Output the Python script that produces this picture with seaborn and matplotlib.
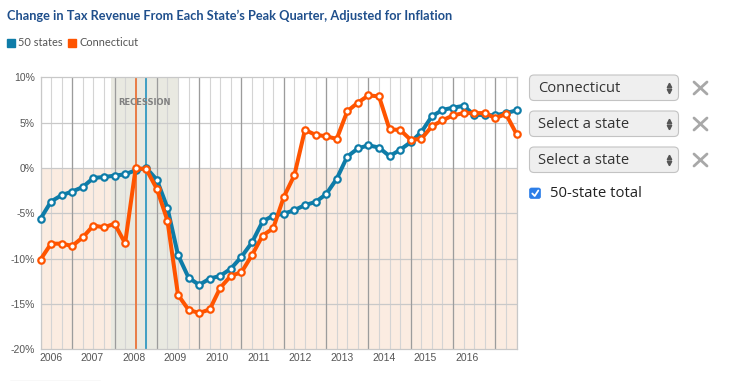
import numpy as np
import pandas as pd
import seaborn as sns
import matplotlib.pyplot as plt
from matplotlib.patches import FancyBboxPatch, Rectangle
from matplotlib.lines import Line2D

# quarterly values, 2006 Q2 .. 2017 Q3, % change from each series' peak quarter
first_quarter = 2006.25
us_total = [-5.6, -3.7, -3.0, -2.6, -2.1, -1.1, -1.0, -0.85, -0.7, -0.25,
            0.0, -1.3, -4.4, -9.6, -12.1, -12.9, -12.2, -11.9, -11.1, -9.8,
            -8.2, -5.9, -5.25, -5.05, -4.65, -4.1, -3.75, -2.9, -1.2, 1.25,
            2.15, 2.5, 2.25, 1.3, 2.0, 2.85, 3.95, 5.7, 6.4, 6.65,
            6.85, 5.85, 5.85, 5.8, 6.05, 6.35]
connecticut = [-10.1, -8.35, -8.35, -8.6, -7.65, -6.35, -6.55, -6.15, -8.3, 0.0,
               -0.15, -2.3, -5.8, -14.0, -15.65, -16.0, -15.6, -13.2, -11.9, -11.5,
               -9.6, -7.45, -6.65, -3.2, -0.8, 4.2, 3.65, 3.5, 3.2, 6.25,
               7.2, 8.0, 7.9, 4.25, 4.2, 3.1, 3.2, 4.6, 5.25, 5.8,
               6.05, 6.05, 6.05, 5.5, 5.95, 3.75]
year_labels = list(range(2006, 2017))
y_ticks = [-20, -15, -10, -5, 0, 5, 10]
recession = (2007.917, 2009.5)
selectors = ["Connecticut", "Select a state", "Select a state"]

blue = "#0e7ca8"
orange = "#ff5400"

x = first_quarter + 0.25 * np.arange(len(us_total))
df = pd.DataFrame({"quarter": x, "50 states": us_total, "Connecticut": connecticut})
long_df = df.melt(id_vars="quarter", var_name="series", value_name="change")

sns.set_style("white")
plt.rcParams["font.family"] = ["Liberation Sans", "DejaVu Sans"]

W, H = 730, 381
fig = plt.figure(figsize=(W / 100, H / 100), dpi=100)
ax = fig.add_axes([40.5 / W, 1 - 349.3 / H, 476 / W, 272 / H])
ax.set_xlim(x[0], x[-1])
ax.set_ylim(-20, 10)

# backgrounds
ax.axhspan(-20, 0, color="#fbece1", zorder=0, lw=0)
ax.axvspan(*recession, color="#e9e9e1", zorder=0.5, lw=0)

# grid
for q in x:
    ax.axvline(q, color="#d4d4d4", lw=0.8, zorder=1)
for yr in range(2007, 2018):
    ax.axvline(yr, color="#9c9c9c", lw=0.9, zorder=1.1)
for v in y_ticks[1:-1]:
    ax.axhline(v, color="#c9c9c9", lw=0.9, zorder=1)
for s in ax.spines.values():
    s.set_color("#c8c8c8")
    s.set_linewidth(0.9)

# peak-quarter markers (pre-recession peak of each series)
pre = x < 2010
ax.axvline(x[pre][np.argmax(np.array(connecticut)[pre])], color="#ea7c45", lw=1.4, zorder=2)
ax.axvline(x[pre][np.argmax(np.array(us_total)[pre])], color="#3f9fc4", lw=1.4, zorder=2)

ax.text(sum(recession) / 2, 0.909, "RECESSION", transform=ax.get_xaxis_transform(),
        ha="center", va="center", fontsize=6.0, fontweight="bold", color="#808080",
        family=["DejaVu Sans"])

for name, color in [("50 states", blue), ("Connecticut", orange)]:
    sns.lineplot(data=long_df[long_df.series == name], x="quarter", y="change",
                 color=color, lw=2.9, marker="o", markersize=4.6,
                 markerfacecolor="white", markeredgecolor=color, markeredgewidth=1.6,
                 clip_on=False, zorder=5, ax=ax, legend=False)

ax.set_yticks(y_ticks)
ax.set_yticklabels([f"{v}%" for v in y_ticks])
ax.set_xticks([2006.49 + 0.984 * (y - 2006) for y in year_labels])
ax.set_xticklabels([str(y) for y in year_labels])
ax.tick_params(axis="both", length=0, labelsize=7.5, labelcolor="#555555")
ax.tick_params(axis="y", pad=4)
ax.tick_params(axis="x", pad=3)
ax.set_xlabel("")
ax.set_ylabel("")

# title and legend
fig.text(7 / W, 1 - 16 / H, "Change in Tax Revenue From Each State\u2019s Peak Quarter, Adjusted for Inflation",
         ha="left", va="center", fontsize=9.2, fontweight="bold", color="#1f4f8c",
         family=["Lato", "DejaVu Sans"])
inch = fig.dpi_scale_trans
for px0, label, color in [(7, "50 states", blue), (68, "Connecticut", orange)]:
    fig.add_artist(Rectangle((px0 / 100, (H - 47) / 100), 0.08, 0.08, color=color, transform=inch))
    fig.text((px0 + 11) / W, 1 - 42.5 / H, label, ha="left", va="center", fontsize=7.9,
             color="#555555", family=["Lato", "DejaVu Sans"])

# selector widgets on the right
for i, label in enumerate(selectors):
    top = 75 + i * 36
    fig.add_artist(FancyBboxPatch((529.5 / 100, (H - top - 25.5) / 100), 1.49, 0.255,
                                  boxstyle="round,pad=0,rounding_size=0.045",
                                  fc="#efefef", ec="#c3c3c3", lw=0.8, transform=inch))
    fig.text(538.5 / W, 1 - (top + 13) / H, label, ha="left", va="center", fontsize=10.6,
             color="#333333", family=["Open Sans", "DejaVu Sans"])
    fig.add_artist(Line2D([669 / 100], [(H - top - 10) / 100], marker="^", ms=3.2,
                          color="#555555", transform=inch))
    fig.add_artist(Line2D([669 / 100], [(H - top - 16) / 100], marker="v", ms=3.2,
                          color="#555555", transform=inch))
    cy = top + 13
    for sgn in (1, -1):
        fig.add_artist(Line2D([694 / 100, 707 / 100], [(H - cy + 6 * sgn) / 100, (H - cy - 6 * sgn) / 100],
                              color="#a8a8a8", lw=2.0, transform=inch))

fig.add_artist(FancyBboxPatch((529.5 / 100, (H - 198.5) / 100), 0.11, 0.105,
                              boxstyle="round,pad=0,rounding_size=0.02",
                              fc="#2c7ee8", ec="#2c7ee8", lw=0.5, transform=inch))
fig.add_artist(Line2D([532.3 / 100, 534.7 / 100, 538.3 / 100],
                      [(H - 193.5) / 100, (H - 196) / 100, (H - 190.5) / 100],
                      color="white", lw=1.3, transform=inch))
fig.text(549.5 / W, 1 - 193.5 / H, "50-state total", ha="left", va="center", fontsize=10.7,
         color="#222222", family=["Open Sans", "DejaVu Sans"])

fig.add_artist(Line2D([10 / 100, 100 / 100], [0.4 / 100, 0.4 / 100], color="#dddddd", lw=1,
                      transform=inch))

fig.savefig("out.png", dpi=100)
